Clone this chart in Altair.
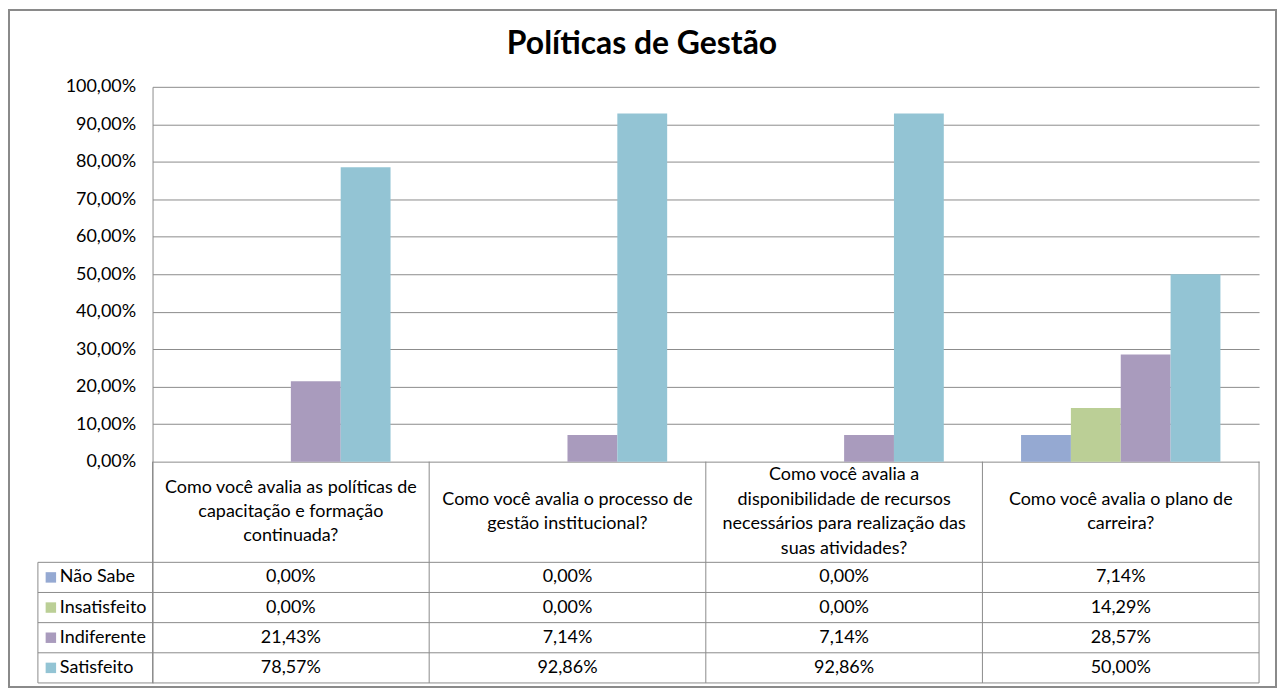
import altair as alt
import pandas as pd

# ---------------- data ----------------
title_text = "Políticas de Gestão"
questions = [
    "Como você avalia as políticas de\ncapacitação e formação\ncontinuada?",
    "Como você avalia o processo de\ngestão institucional?",
    "Como você avalia a\ndisponibilidade de recursos\nnecessários para realização das\nsuas atividades?",
    "Como você avalia o plano de\ncarreira?",
]
series = ["Não Sabe", "Insatisfeito", "Indiferente", "Satisfeito"]
nao_sabe = [0.00, 0.00, 0.00, 7.14]
insatisfeito = [0.00, 0.00, 0.00, 14.29]
indiferente = [21.43, 7.14, 7.14, 28.57]
satisfeito = [78.57, 92.86, 92.86, 50.00]
y_ticks = [0, 10, 20, 30, 40, 50, 60, 70, 80, 90, 100]
colors = ["#95A9D2", "#BBCF96", "#A99BBD", "#93C4D4"]

# ---------------- layout ----------------
W = 1110          # plot width (px)
H = 598           # plot + table height (px)
PX_PER_UNIT = 3.76
Y_MIN = 100 - H / PX_PER_UNIT
HEADER_BOTTOM = 100 - 477 / PX_PER_UNIT
ROW_H = (HEADER_BOTTOM - Y_MIN) / 4
HEADER_CENTER = HEADER_BOTTOM / 2
LINE_H = 24.5 / PX_PER_UNIT
FONT = "Lato"
FS = 18
LINE = "#8c8c8c"

values = [nao_sabe, insatisfeito, indiferente, satisfeito]
rows = []
for i, s in enumerate(series):
    for j, q in enumerate(questions):
        rows.append({"question": q, "series": s, "value": values[i][j],
                     "row_y": HEADER_BOTTOM - (i + 0.5) * ROW_H})
df = pd.DataFrame(rows)
legend_df = pd.DataFrame({"series": series,
                          "row_y": [HEADER_BOTTOM - (i + 0.5) * ROW_H for i in range(4)]})
hline_df = pd.DataFrame({"y": [HEADER_BOTTOM - i * ROW_H for i in range(5)]})
q_df = pd.DataFrame({"question": questions,
                     "top": [0] * 4, "bottom": [Y_MIN] * 4})
hdr_rows = []
for q in questions:
    parts = q.split("\n")
    n = len(parts)
    for k, p in enumerate(parts):
        hdr_rows.append({"question": q, "line": p,
                         "hy": HEADER_CENTER - (k - (n - 1) / 2) * LINE_H})
hdr_df = pd.DataFrame(hdr_rows)
one = pd.DataFrame({"k": [0]})

yscale = alt.Scale(domain=[Y_MIN, 100], nice=False, zero=False)
xscale = alt.Scale(domain=questions, paddingInner=0, paddingOuter=0)
cscale = alt.Scale(domain=series, range=colors)
fmt = "replace(format(datum.value, '.2f'), '.', ',') + '%'"
y_axis = alt.Axis(values=y_ticks, labelExpr=fmt, grid=True, gridColor=LINE,
                  ticks=False, domainColor=LINE, labelPadding=17,
                  labelFontSize=FS, labelFont=FONT, labelColor="#000",
                  title=None)

X = lambda **kw: alt.X("question:N", scale=xscale, axis=None, sort=questions, **kw)
Y = lambda f: alt.Y(f, scale=yscale, axis=y_axis)

bars = alt.Chart(df).mark_bar().encode(
    x=X(),
    xOffset=alt.XOffset("series:N", sort=series,
                        scale=alt.Scale(domain=series, paddingInner=0, paddingOuter=0.775)),
    y=Y("value:Q"),
    y2=alt.datum(0),
    color=alt.Color("series:N", scale=cscale, legend=None),
)

hlines = alt.Chart(hline_df).mark_rule(color=LINE).encode(
    x=alt.value(-115), x2=alt.value(W),
    y=Y("y:Q"),
)
vlines = alt.Chart(q_df).mark_rule(color=LINE).encode(
    x=X(bandPosition=0),
    y=Y("top:Q"),
    y2="bottom:Q",
)
right_line = alt.Chart(one).mark_rule(color=LINE).encode(
    x=alt.value(W), y=alt.datum(0), y2=alt.datum(Y_MIN),
)
left_line = alt.Chart(one).mark_rule(color=LINE).encode(
    x=alt.value(-115), y=alt.datum(HEADER_BOTTOM), y2=alt.datum(Y_MIN),
)

cells = alt.Chart(df).transform_calculate(label=fmt).mark_text(
    font=FONT, fontSize=FS, color="#000").encode(
    x=X(),
    y=Y("row_y:Q"),
    text="label:N",
)
headers = alt.Chart(hdr_df).mark_text(
    font=FONT, fontSize=FS, color="#000",
    align="center", baseline="middle").encode(
    x=X(),
    y=Y("hy:Q"),
    text="line:N",
)
leg_sq = alt.Chart(legend_df).mark_square(size=110, opacity=1).encode(
    x=alt.value(-102),
    y=Y("row_y:Q"),
    color=alt.Color("series:N", scale=cscale, legend=None),
)
leg_tx = alt.Chart(legend_df).mark_text(
    font=FONT, fontSize=FS, color="#000", align="left").encode(
    x=alt.value(-93),
    y=Y("row_y:Q"),
    text="series:N",
)
title = alt.Chart(pd.DataFrame({"t": [title_text]})).mark_text(
    font=FONT, fontSize=32, fontWeight="bold", color="#000",
    align="center", baseline="middle").encode(
    x=alt.value(491), y=alt.value(-43), text="t:N",
)
frame = alt.Chart(one).mark_rect(fillOpacity=0, stroke="#8a8a8a", strokeWidth=2).encode(
    x=alt.value(-144), x2=alt.value(1127), y=alt.value(-77), y2=alt.value(602),
)

chart = alt.layer(
    frame, bars, hlines, vlines, right_line, left_line, cells, headers,
    leg_sq, leg_tx, title,
).properties(
    width=W, height=H,
    autosize=alt.AutoSizeParams(type="none"),
    padding={"left": 145, "top": 78, "right": 18, "bottom": 7},
    background="white",
).configure_view(strokeWidth=0)

chart.save("out.html", embed_options={"renderer": "svg", "actions": False})
